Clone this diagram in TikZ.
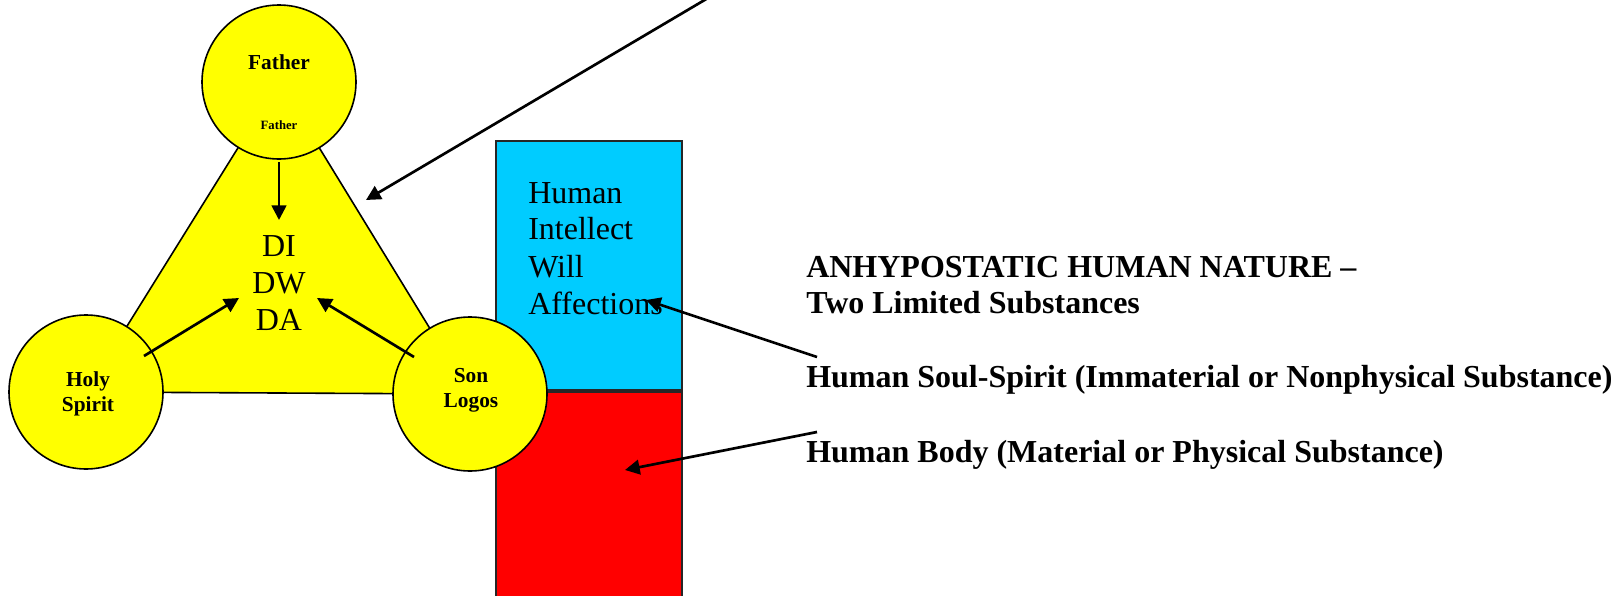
\documentclass[tikz,border=0pt]{standalone}
\usepackage{fontspec}
\setmainfont{Liberation Serif}
\usetikzlibrary{arrows.meta}
\definecolor{tyellow}{RGB}{255,255,0}
\definecolor{soulblue}{RGB}{0,204,255}
\definecolor{bodyred}{RGB}{255,0,0}
\begin{document}
\begin{tikzpicture}[x=0.75pt,y=-0.75pt,
  person/.style={circle,draw=black,line width=1.2pt,fill=tyellow,minimum size=115.5pt,inner sep=0pt},
  blockbox/.style={draw=black!85,line width=1.2pt},
  arr/.style={line width=2pt,-{Triangle[length=11pt,width=11pt]}},
  namelbl/.style={font=\fontsize{16}{18.75}\selectfont\bfseries,align=center,inner sep=0pt,anchor=base},
  biglbl/.style={font=\fontsize{24}{27.75}\selectfont,inner sep=0pt,anchor=base},
  sidelbl/.style={font=\fontsize{24}{26.25}\selectfont\bfseries,inner sep=0pt,anchor=base west,align=left}]
\useasboundingbox (0,0) rectangle (1617,596);
\clip (0,0) rectangle (1617,596);
\coordinate (Fc) at (279,82);
\coordinate (Hc) at (86,392);
\coordinate (Sc) at (470,394);
% triangle of the divine nature
\draw[fill=tyellow,line width=1.2pt] (Fc) -- (Hc) -- (Sc) -- cycle;
% persons
\node[person] (father) at (Fc) {};
\node[person] (spirit) at (Hc) {};
% human nature blocks
\draw[blockbox,fill=soulblue] (496,141) rectangle (682,390);
\draw[blockbox,fill=bodyred] (496,392) rectangle (682,620);
\node[person] (son) at (Sc) {};
% labels in persons
\node[namelbl] (fname) at (279,69) {Father};
\node[font=\fontsize{9.5}{11}\selectfont\bfseries,inner sep=0pt,anchor=base] (fsmall) at (279,129) {Father};
\node[namelbl] (hname) at (88,411) {Holy\\Spirit};
\node[namelbl] (sname) at (471,407) {Son\\Logos};
% divine attributes
\node[biglbl] (di) at (279,256) {DI};
\node[biglbl] (dw) at (279,293) {DW};
\node[biglbl] (da) at (279,330) {DA};
% human faculties
\node[biglbl,anchor=base west] (hum) at (528,203) {Human};
\node[biglbl,anchor=base west] (intel) at (528,239) {Intellect};
\node[biglbl,anchor=base west] (will) at (528,277) {Will};
\node[biglbl,anchor=base west] (aff) at (528,314) {Affections};
% side texts
\node[sidelbl] (title1) at (806,277) {ANHYPOSTATIC HUMAN NATURE –};
\node[sidelbl] (title2) at (806,313) {Two Limited Substances};
\node[sidelbl] (soul) at (806,387) {Human Soul-Spirit (Immaterial or Nonphysical Substance)};
\node[sidelbl] (body) at (806,462) {Human Body (Material or Physical Substance)};
% arrow anchor points
\coordinate (fA) at (279,162);
\coordinate (fB) at (279,220);
\coordinate (hA) at (144,356);
\coordinate (hB) at (239,298);
\coordinate (sA) at (414,357);
\coordinate (sB) at (317,298);
\coordinate (topA) at (708,-2);
\coordinate (topB) at (366,200);
\coordinate (soulA) at (817,357);
\coordinate (soulB) at (646,300);
\coordinate (bodyA) at (817,432);
\coordinate (bodyB) at (625,470);
\draw[arr] (fA) -- (fB);
\draw[arr] (hA) -- (hB);
\draw[arr] (sA) -- (sB);
\draw[arr] (topA) -- (topB);
\draw[arr] (soulA) -- (soulB);
\draw[arr] (bodyA) -- (bodyB);
\end{tikzpicture}
\end{document}
